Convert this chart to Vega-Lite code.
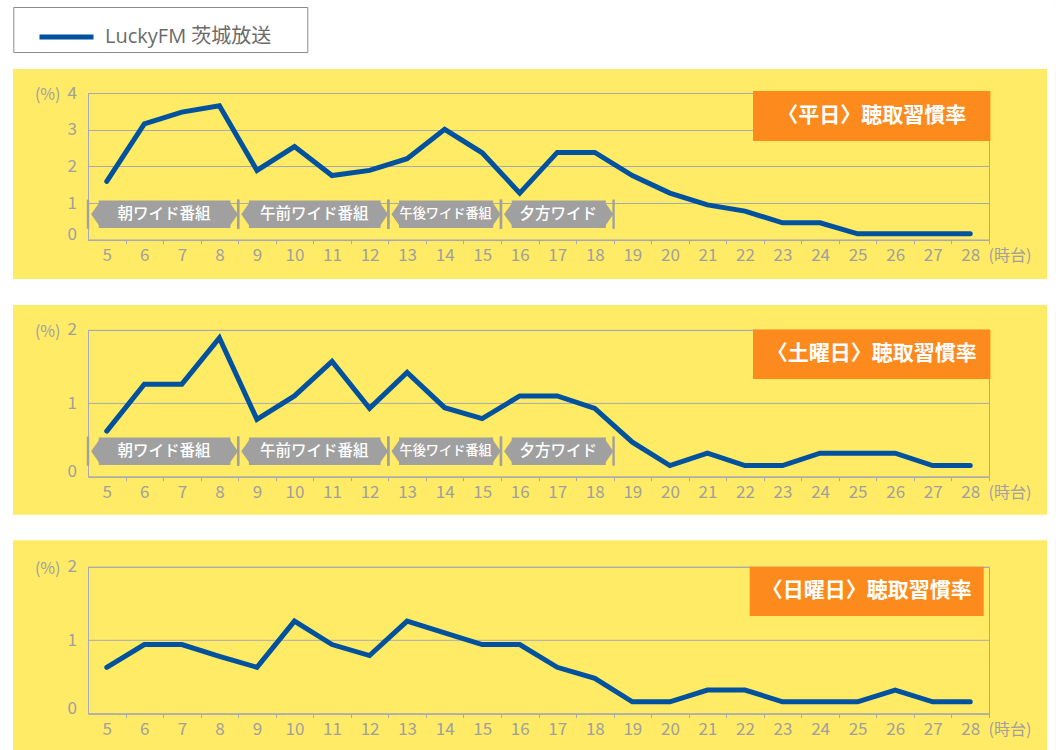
{
  "$schema": "https://vega.github.io/schema/vega-lite/v6.json",
  "background": "#FFEB65",
  "padding": {"left": -1, "top": -1, "right": 0, "bottom": 0},
  "autosize": {"type": "pad"},
  "spacing": 89.9,
  "bounds": "flush",
  "datasets": {
    "blank": [{}],
    "programs": [
      {"program": "朝ワイド番組", "start": 5, "end": 8},
      {"program": "午前ワイド番組", "start": 9, "end": 12},
      {"program": "午後ワイド番組", "start": 13, "end": 15},
      {"program": "夕方ワイド", "start": 16, "end": 18}
    ],
    "titles": [
      {"day": "平日", "title": "〈平日〉聴取習慣率"},
      {"day": "土曜日", "title": "〈土曜日〉聴取習慣率"},
      {"day": "日曜日", "title": "〈日曜日〉聴取習慣率"}
    ],
    "listen": [
      {"day": "平日", "hour": 5, "value": 1.59, "station": "LuckyFM 茨城放送"},
      {"day": "平日", "hour": 6, "value": 3.16, "station": "LuckyFM 茨城放送"},
      {"day": "平日", "hour": 7, "value": 3.48, "station": "LuckyFM 茨城放送"},
      {"day": "平日", "hour": 8, "value": 3.65, "station": "LuckyFM 茨城放送"},
      {"day": "平日", "hour": 9, "value": 1.89, "station": "LuckyFM 茨城放送"},
      {"day": "平日", "hour": 10, "value": 2.54, "station": "LuckyFM 茨城放送"},
      {"day": "平日", "hour": 11, "value": 1.75, "station": "LuckyFM 茨城放送"},
      {"day": "平日", "hour": 12, "value": 1.89, "station": "LuckyFM 茨城放送"},
      {"day": "平日", "hour": 13, "value": 2.21, "station": "LuckyFM 茨城放送"},
      {"day": "平日", "hour": 14, "value": 3.01, "station": "LuckyFM 茨城放送"},
      {"day": "平日", "hour": 15, "value": 2.37, "station": "LuckyFM 茨城放送"},
      {"day": "平日", "hour": 16, "value": 1.27, "station": "LuckyFM 茨城放送"},
      {"day": "平日", "hour": 17, "value": 2.38, "station": "LuckyFM 茨城放送"},
      {"day": "平日", "hour": 18, "value": 2.38, "station": "LuckyFM 茨城放送"},
      {"day": "平日", "hour": 19, "value": 1.75, "station": "LuckyFM 茨城放送"},
      {"day": "平日", "hour": 20, "value": 1.27, "station": "LuckyFM 茨城放送"},
      {"day": "平日", "hour": 21, "value": 0.95, "station": "LuckyFM 茨城放送"},
      {"day": "平日", "hour": 22, "value": 0.78, "station": "LuckyFM 茨城放送"},
      {"day": "平日", "hour": 23, "value": 0.46, "station": "LuckyFM 茨城放送"},
      {"day": "平日", "hour": 24, "value": 0.46, "station": "LuckyFM 茨城放送"},
      {"day": "平日", "hour": 25, "value": 0.16, "station": "LuckyFM 茨城放送"},
      {"day": "平日", "hour": 26, "value": 0.16, "station": "LuckyFM 茨城放送"},
      {"day": "平日", "hour": 27, "value": 0.16, "station": "LuckyFM 茨城放送"},
      {"day": "平日", "hour": 28, "value": 0.16, "station": "LuckyFM 茨城放送"},
      {"day": "土曜日", "hour": 5, "value": 0.62, "station": "LuckyFM 茨城放送"},
      {"day": "土曜日", "hour": 6, "value": 1.26, "station": "LuckyFM 茨城放送"},
      {"day": "土曜日", "hour": 7, "value": 1.26, "station": "LuckyFM 茨城放送"},
      {"day": "土曜日", "hour": 8, "value": 1.89, "station": "LuckyFM 茨城放送"},
      {"day": "土曜日", "hour": 9, "value": 0.78, "station": "LuckyFM 茨城放送"},
      {"day": "土曜日", "hour": 10, "value": 1.10, "station": "LuckyFM 茨城放送"},
      {"day": "土曜日", "hour": 11, "value": 1.57, "station": "LuckyFM 茨城放送"},
      {"day": "土曜日", "hour": 12, "value": 0.93, "station": "LuckyFM 茨城放送"},
      {"day": "土曜日", "hour": 13, "value": 1.42, "station": "LuckyFM 茨城放送"},
      {"day": "土曜日", "hour": 14, "value": 0.94, "station": "LuckyFM 茨城放送"},
      {"day": "土曜日", "hour": 15, "value": 0.79, "station": "LuckyFM 茨城放送"},
      {"day": "土曜日", "hour": 16, "value": 1.10, "station": "LuckyFM 茨城放送"},
      {"day": "土曜日", "hour": 17, "value": 1.10, "station": "LuckyFM 茨城放送"},
      {"day": "土曜日", "hour": 18, "value": 0.93, "station": "LuckyFM 茨城放送"},
      {"day": "土曜日", "hour": 19, "value": 0.47, "station": "LuckyFM 茨城放送"},
      {"day": "土曜日", "hour": 20, "value": 0.15, "station": "LuckyFM 茨城放送"},
      {"day": "土曜日", "hour": 21, "value": 0.32, "station": "LuckyFM 茨城放送"},
      {"day": "土曜日", "hour": 22, "value": 0.15, "station": "LuckyFM 茨城放送"},
      {"day": "土曜日", "hour": 23, "value": 0.15, "station": "LuckyFM 茨城放送"},
      {"day": "土曜日", "hour": 24, "value": 0.32, "station": "LuckyFM 茨城放送"},
      {"day": "土曜日", "hour": 25, "value": 0.32, "station": "LuckyFM 茨城放送"},
      {"day": "土曜日", "hour": 26, "value": 0.32, "station": "LuckyFM 茨城放送"},
      {"day": "土曜日", "hour": 27, "value": 0.15, "station": "LuckyFM 茨城放送"},
      {"day": "土曜日", "hour": 28, "value": 0.15, "station": "LuckyFM 茨城放送"},
      {"day": "日曜日", "hour": 5, "value": 0.63, "station": "LuckyFM 茨城放送"},
      {"day": "日曜日", "hour": 6, "value": 0.94, "station": "LuckyFM 茨城放送"},
      {"day": "日曜日", "hour": 7, "value": 0.94, "station": "LuckyFM 茨城放送"},
      {"day": "日曜日", "hour": 8, "value": 0.78, "station": "LuckyFM 茨城放送"},
      {"day": "日曜日", "hour": 9, "value": 0.63, "station": "LuckyFM 茨城放送"},
      {"day": "日曜日", "hour": 10, "value": 1.26, "station": "LuckyFM 茨城放送"},
      {"day": "日曜日", "hour": 11, "value": 0.94, "station": "LuckyFM 茨城放送"},
      {"day": "日曜日", "hour": 12, "value": 0.79, "station": "LuckyFM 茨城放送"},
      {"day": "日曜日", "hour": 13, "value": 1.26, "station": "LuckyFM 茨城放送"},
      {"day": "日曜日", "hour": 14, "value": 1.10, "station": "LuckyFM 茨城放送"},
      {"day": "日曜日", "hour": 15, "value": 0.94, "station": "LuckyFM 茨城放送"},
      {"day": "日曜日", "hour": 16, "value": 0.94, "station": "LuckyFM 茨城放送"},
      {"day": "日曜日", "hour": 17, "value": 0.63, "station": "LuckyFM 茨城放送"},
      {"day": "日曜日", "hour": 18, "value": 0.48, "station": "LuckyFM 茨城放送"},
      {"day": "日曜日", "hour": 19, "value": 0.16, "station": "LuckyFM 茨城放送"},
      {"day": "日曜日", "hour": 20, "value": 0.16, "station": "LuckyFM 茨城放送"},
      {"day": "日曜日", "hour": 21, "value": 0.32, "station": "LuckyFM 茨城放送"},
      {"day": "日曜日", "hour": 22, "value": 0.32, "station": "LuckyFM 茨城放送"},
      {"day": "日曜日", "hour": 23, "value": 0.16, "station": "LuckyFM 茨城放送"},
      {"day": "日曜日", "hour": 24, "value": 0.16, "station": "LuckyFM 茨城放送"},
      {"day": "日曜日", "hour": 25, "value": 0.16, "station": "LuckyFM 茨城放送"},
      {"day": "日曜日", "hour": 26, "value": 0.32, "station": "LuckyFM 茨城放送"},
      {"day": "日曜日", "hour": 27, "value": 0.16, "station": "LuckyFM 茨城放送"},
      {"day": "日曜日", "hour": 28, "value": 0.16, "station": "LuckyFM 茨城放送"}
    ]
  },
  "vconcat": [
    {
      "width": 901,
      "height": 146.7,
      "layer": [
        {
          "data": {"name": "blank"},
          "mark": {"type": "rect", "color": "#FFFFFF"},
          "encoding": {
            "x": {"datum": 2.1559, "type": "quantitative", "axis": {"values": [5,6,7,8,9,10,11,12,13,14,15,16,17,18,19,20,21,22,23,24,25,26,27,28], "format": "d", "title": "(時台)"}},
            "x2": {"datum": 30.28},
            "y": {"datum": 6.5357, "type": "quantitative", "axis": {"tickCount": 4, "format": "d", "title": "(%)", "labelOffset": {"condition": {"test": "datum.value === 0", "value": -5}, "value": 0}}},
            "y2": {"datum": 4.6544}
          }
        },
        {
          "data": {"name": "blank"},
          "mark": {"type": "rect", "color": "#FFFFFF"},
          "encoding": {
            "x": {"datum": 2.1559, "type": "quantitative", "axis": {"values": [5,6,7,8,9,10,11,12,13,14,15,16,17,18,19,20,21,22,23,24,25,26,27,28], "format": "d", "title": "(時台)"}},
            "x2": {"datum": 30.28},
            "y": {"datum": -1.0716, "type": "quantitative", "axis": {"tickCount": 4, "format": "d", "title": "(%)", "labelOffset": {"condition": {"test": "datum.value === 0", "value": -5}, "value": 0}}},
            "y2": {"datum": -1.7805}
          }
        },
        {
          "data": {"name": "programs"},
          "mark": {"type": "rule", "color": "#A0A0A0", "strokeWidth": 2.4, "xOffset": -18.771},
          "encoding": {
            "x": {"field": "start", "type": "quantitative", "axis": {"values": [5,6,7,8,9,10,11,12,13,14,15,16,17,18,19,20,21,22,23,24,25,26,27,28], "format": "d", "title": "(時台)"}},
            "y": {"datum": 1.093, "type": "quantitative", "axis": {"tickCount": 4, "format": "d", "title": "(%)", "labelOffset": {"condition": {"test": "datum.value === 0", "value": -5}, "value": 0}}},
            "y2": {"datum": 0.297}
          }
        },
        {
          "data": {"name": "programs"},
          "mark": {"type": "rule", "color": "#A0A0A0", "strokeWidth": 2.4, "xOffset": 18.771},
          "encoding": {
            "x": {"field": "end", "type": "quantitative", "axis": {"values": [5,6,7,8,9,10,11,12,13,14,15,16,17,18,19,20,21,22,23,24,25,26,27,28], "format": "d", "title": "(時台)"}},
            "y": {"datum": 1.093, "type": "quantitative", "axis": {"tickCount": 4, "format": "d", "title": "(%)", "labelOffset": {"condition": {"test": "datum.value === 0", "value": -5}, "value": 0}}},
            "y2": {"datum": 0.297}
          }
        },
        {
          "data": {"name": "programs"},
          "mark": {"type": "rect", "color": "#A0A0A0", "xOffset": -8, "x2Offset": 11},
          "encoding": {
            "x": {"field": "start", "type": "quantitative", "axis": {"values": [5,6,7,8,9,10,11,12,13,14,15,16,17,18,19,20,21,22,23,24,25,26,27,28], "format": "d", "title": "(時台)"}},
            "x2": {"field": "end"},
            "y": {"datum": 1.066, "type": "quantitative", "axis": {"tickCount": 4, "format": "d", "title": "(%)", "labelOffset": {"condition": {"test": "datum.value === 0", "value": -5}, "value": 0}}},
            "y2": {"datum": 0.319}
          }
        },
        {
          "data": {"name": "programs"},
          "mark": {"type": "point", "shape": "M0.15,-1L-0.56,0L0.15,1Z", "size": 751, "filled": true, "opacity": 1, "color": "#A0A0A0", "strokeWidth": 0, "xOffset": -8},
          "encoding": {
            "x": {"field": "start", "type": "quantitative", "axis": {"values": [5,6,7,8,9,10,11,12,13,14,15,16,17,18,19,20,21,22,23,24,25,26,27,28], "format": "d", "title": "(時台)"}},
            "y": {"datum": 0.6926, "type": "quantitative", "axis": {"tickCount": 4, "format": "d", "title": "(%)", "labelOffset": {"condition": {"test": "datum.value === 0", "value": -5}, "value": 0}}}
          }
        },
        {
          "data": {"name": "programs"},
          "mark": {"type": "point", "shape": "M-0.15,-1L0.55,0L-0.15,1Z", "size": 751, "filled": true, "opacity": 1, "color": "#A0A0A0", "strokeWidth": 0, "xOffset": 11},
          "encoding": {
            "x": {"field": "end", "type": "quantitative", "axis": {"values": [5,6,7,8,9,10,11,12,13,14,15,16,17,18,19,20,21,22,23,24,25,26,27,28], "format": "d", "title": "(時台)"}},
            "y": {"datum": 0.6926, "type": "quantitative", "axis": {"tickCount": 4, "format": "d", "title": "(%)", "labelOffset": {"condition": {"test": "datum.value === 0", "value": -5}, "value": 0}}}
          }
        },
        {
          "data": {"name": "programs"},
          "transform": [
            {"fold": ["start", "end"], "as": ["edge", "hourEdge"]},
            {"aggregate": [{"op": "mean", "field": "hourEdge", "as": "mid"}], "groupby": ["program"]}
          ],
          "mark": {"type": "text", "color": "#FFFFFF", "baseline": "middle", "align": "center", "fontWeight": 500, "xOffset": 1},
          "encoding": {
            "x": {"field": "mid", "type": "quantitative", "axis": {"values": [5,6,7,8,9,10,11,12,13,14,15,16,17,18,19,20,21,22,23,24,25,26,27,28], "format": "d", "title": "(時台)"}},
            "y": {"datum": 0.6926, "type": "quantitative", "axis": {"tickCount": 4, "format": "d", "title": "(%)", "labelOffset": {"condition": {"test": "datum.value === 0", "value": -5}, "value": 0}}},
            "text": {"field": "program"},
            "size": {"condition": {"test": "datum.program === '午後ワイド番組'", "value": 13.2}, "value": 15.5}
          }
        },
        {
          "data": {"name": "listen"},
          "transform": [{"filter": "datum.day === '平日'"}],
          "mark": {"type": "line", "strokeWidth": 5, "strokeCap": "round"},
          "encoding": {
            "x": {"field": "hour", "type": "quantitative", "scale": {"domain": [4.5, 28.5], "nice": false, "zero": false}, "axis": {"values": [5,6,7,8,9,10,11,12,13,14,15,16,17,18,19,20,21,22,23,24,25,26,27,28], "format": "d", "title": "(時台)"}},
            "y": {"field": "value", "type": "quantitative", "scale": {"domain": [0, 4], "nice": false}, "axis": {"tickCount": 4, "format": "d", "title": "(%)", "labelOffset": {"condition": {"test": "datum.value === 0", "value": -5}, "value": 0}}},
            "color": {"field": "station", "type": "nominal", "scale": {"range": ["#00519E"]},
              "legend": {"orient": "none", "legendX": -74.7, "legendY": -86.0, "title": null, "symbolType": "M-1.2,0H1.2", "symbolSize": 2025, "symbolStrokeWidth": 5, "symbolOffset": 23.2, "labelOffset": 13.5, "padding": 5, "labelFontSize": 20, "labelFont": "Open Sans, Noto Sans CJK JP", "labelLimit": 500, "labelColor": "#6B6B6B", "fillColor": "#FFFFFF", "strokeColor": "#8C8C8C", "labelExpr": "datum.label + '⠀⠀'", "zindex": 1}}
          }
        },
        {
          "data": {"name": "blank"},
          "mark": {"type": "rect", "color": "#FD8A1D"},
          "encoding": {
            "x": {"datum": 22.214, "type": "quantitative", "axis": {"values": [5,6,7,8,9,10,11,12,13,14,15,16,17,18,19,20,21,22,23,24,25,26,27,28], "format": "d", "title": "(時台)"}},
            "x2": {"datum": 28.537},
            "y": {"datum": 4.055, "type": "quantitative", "axis": {"tickCount": 4, "format": "d", "title": "(%)", "labelOffset": {"condition": {"test": "datum.value === 0", "value": -5}, "value": 0}}},
            "y2": {"datum": 2.691}
          }
        },
        {
          "data": {"name": "titles"},
          "transform": [{"filter": "datum.day === '平日'"}],
          "mark": {"type": "text", "color": "#FFFFFF", "fontSize": 21, "fontWeight": "bold", "align": "center", "baseline": "middle"},
          "encoding": {
            "x": {"datum": 25.375, "type": "quantitative", "axis": {"values": [5,6,7,8,9,10,11,12,13,14,15,16,17,18,19,20,21,22,23,24,25,26,27,28], "format": "d", "title": "(時台)"}},
            "y": {"datum": 3.373, "type": "quantitative", "axis": {"tickCount": 4, "format": "d", "title": "(%)", "labelOffset": {"condition": {"test": "datum.value === 0", "value": -5}, "value": 0}}},
            "text": {"field": "title"}
          }
        }
      ]
    },
    {
      "width": 901,
      "height": 146.7,
      "layer": [
        {
          "data": {"name": "blank"},
          "mark": {"type": "rect", "color": "#FFFFFF"},
          "encoding": {
            "x": {"datum": 2.1559, "type": "quantitative", "axis": {"values": [5,6,7,8,9,10,11,12,13,14,15,16,17,18,19,20,21,22,23,24,25,26,27,28], "format": "d", "title": "(時台)"}},
            "x2": {"datum": 30.28},
            "y": {"datum": -0.5208, "type": "quantitative", "axis": {"tickCount": 2, "format": "d", "title": "(%)", "labelOffset": {"condition": {"test": "datum.value === 0", "value": -5}, "value": 0}}},
            "y2": {"datum": -0.8685}
          }
        },
        {
          "data": {"name": "programs"},
          "mark": {"type": "rule", "color": "#A0A0A0", "strokeWidth": 2.4, "xOffset": -18.771},
          "encoding": {
            "x": {"field": "start", "type": "quantitative", "axis": {"values": [5,6,7,8,9,10,11,12,13,14,15,16,17,18,19,20,21,22,23,24,25,26,27,28], "format": "d", "title": "(時台)"}},
            "y": {"datum": 0.5467, "type": "quantitative", "axis": {"tickCount": 2, "format": "d", "title": "(%)", "labelOffset": {"condition": {"test": "datum.value === 0", "value": -5}, "value": 0}}},
            "y2": {"datum": 0.1486}
          }
        },
        {
          "data": {"name": "programs"},
          "mark": {"type": "rule", "color": "#A0A0A0", "strokeWidth": 2.4, "xOffset": 18.771},
          "encoding": {
            "x": {"field": "end", "type": "quantitative", "axis": {"values": [5,6,7,8,9,10,11,12,13,14,15,16,17,18,19,20,21,22,23,24,25,26,27,28], "format": "d", "title": "(時台)"}},
            "y": {"datum": 0.5467, "type": "quantitative", "axis": {"tickCount": 2, "format": "d", "title": "(%)", "labelOffset": {"condition": {"test": "datum.value === 0", "value": -5}, "value": 0}}},
            "y2": {"datum": 0.1486}
          }
        },
        {
          "data": {"name": "programs"},
          "mark": {"type": "rect", "color": "#A0A0A0", "xOffset": -8, "x2Offset": 11},
          "encoding": {
            "x": {"field": "start", "type": "quantitative", "axis": {"values": [5,6,7,8,9,10,11,12,13,14,15,16,17,18,19,20,21,22,23,24,25,26,27,28], "format": "d", "title": "(時台)"}},
            "x2": {"field": "end"},
            "y": {"datum": 0.533, "type": "quantitative", "axis": {"tickCount": 2, "format": "d", "title": "(%)", "labelOffset": {"condition": {"test": "datum.value === 0", "value": -5}, "value": 0}}},
            "y2": {"datum": 0.1595}
          }
        },
        {
          "data": {"name": "programs"},
          "mark": {"type": "point", "shape": "M0.15,-1L-0.56,0L0.15,1Z", "size": 751, "filled": true, "opacity": 1, "color": "#A0A0A0", "strokeWidth": 0, "xOffset": -8},
          "encoding": {
            "x": {"field": "start", "type": "quantitative", "axis": {"values": [5,6,7,8,9,10,11,12,13,14,15,16,17,18,19,20,21,22,23,24,25,26,27,28], "format": "d", "title": "(時台)"}},
            "y": {"datum": 0.3463, "type": "quantitative", "axis": {"tickCount": 2, "format": "d", "title": "(%)", "labelOffset": {"condition": {"test": "datum.value === 0", "value": -5}, "value": 0}}}
          }
        },
        {
          "data": {"name": "programs"},
          "mark": {"type": "point", "shape": "M-0.15,-1L0.55,0L-0.15,1Z", "size": 751, "filled": true, "opacity": 1, "color": "#A0A0A0", "strokeWidth": 0, "xOffset": 11},
          "encoding": {
            "x": {"field": "end", "type": "quantitative", "axis": {"values": [5,6,7,8,9,10,11,12,13,14,15,16,17,18,19,20,21,22,23,24,25,26,27,28], "format": "d", "title": "(時台)"}},
            "y": {"datum": 0.3463, "type": "quantitative", "axis": {"tickCount": 2, "format": "d", "title": "(%)", "labelOffset": {"condition": {"test": "datum.value === 0", "value": -5}, "value": 0}}}
          }
        },
        {
          "data": {"name": "programs"},
          "transform": [
            {"fold": ["start", "end"], "as": ["edge", "hourEdge"]},
            {"aggregate": [{"op": "mean", "field": "hourEdge", "as": "mid"}], "groupby": ["program"]}
          ],
          "mark": {"type": "text", "color": "#FFFFFF", "baseline": "middle", "align": "center", "fontWeight": 500, "xOffset": 1},
          "encoding": {
            "x": {"field": "mid", "type": "quantitative", "axis": {"values": [5,6,7,8,9,10,11,12,13,14,15,16,17,18,19,20,21,22,23,24,25,26,27,28], "format": "d", "title": "(時台)"}},
            "y": {"datum": 0.3463, "type": "quantitative", "axis": {"tickCount": 2, "format": "d", "title": "(%)", "labelOffset": {"condition": {"test": "datum.value === 0", "value": -5}, "value": 0}}},
            "text": {"field": "program"},
            "size": {"condition": {"test": "datum.program === '午後ワイド番組'", "value": 13.2}, "value": 15.5}
          }
        },
        {
          "data": {"name": "listen"},
          "transform": [{"filter": "datum.day === '土曜日'"}],
          "mark": {"type": "line", "strokeWidth": 5, "strokeCap": "round"},
          "encoding": {
            "x": {"field": "hour", "type": "quantitative", "scale": {"domain": [4.5, 28.5], "nice": false, "zero": false}, "axis": {"values": [5,6,7,8,9,10,11,12,13,14,15,16,17,18,19,20,21,22,23,24,25,26,27,28], "format": "d", "title": "(時台)"}},
            "y": {"field": "value", "type": "quantitative", "scale": {"domain": [0, 2], "nice": false}, "axis": {"tickCount": 2, "format": "d", "title": "(%)", "labelOffset": {"condition": {"test": "datum.value === 0", "value": -5}, "value": 0}}},
            "color": {"field": "station", "type": "nominal", "scale": {"range": ["#00519E"]},
              "legend": {"orient": "none", "legendX": -74.7, "legendY": -86.0, "title": null, "symbolType": "M-1.2,0H1.2", "symbolSize": 2025, "symbolStrokeWidth": 5, "symbolOffset": 23.2, "labelOffset": 13.5, "padding": 5, "labelFontSize": 20, "labelFont": "Open Sans, Noto Sans CJK JP", "labelLimit": 500, "labelColor": "#6B6B6B", "fillColor": "#FFFFFF", "strokeColor": "#8C8C8C", "labelExpr": "datum.label + '⠀⠀'", "zindex": 1}}
          }
        },
        {
          "data": {"name": "blank"},
          "mark": {"type": "rect", "color": "#FD8A1D"},
          "encoding": {
            "x": {"datum": 22.214, "type": "quantitative", "axis": {"values": [5,6,7,8,9,10,11,12,13,14,15,16,17,18,19,20,21,22,23,24,25,26,27,28], "format": "d", "title": "(時台)"}},
            "x2": {"datum": 28.537},
            "y": {"datum": 2.004, "type": "quantitative", "axis": {"tickCount": 2, "format": "d", "title": "(%)", "labelOffset": {"condition": {"test": "datum.value === 0", "value": -5}, "value": 0}}},
            "y2": {"datum": 1.332}
          }
        },
        {
          "data": {"name": "titles"},
          "transform": [{"filter": "datum.day === '土曜日'"}],
          "mark": {"type": "text", "color": "#FFFFFF", "fontSize": 21, "fontWeight": "bold", "align": "center", "baseline": "middle"},
          "encoding": {
            "x": {"datum": 25.375, "type": "quantitative", "axis": {"values": [5,6,7,8,9,10,11,12,13,14,15,16,17,18,19,20,21,22,23,24,25,26,27,28], "format": "d", "title": "(時台)"}},
            "y": {"datum": 1.667, "type": "quantitative", "axis": {"tickCount": 2, "format": "d", "title": "(%)", "labelOffset": {"condition": {"test": "datum.value === 0", "value": -5}, "value": 0}}},
            "text": {"field": "title"}
          }
        }
      ]
    },
    {
      "width": 901,
      "height": 146.7,
      "layer": [
        {
          "data": {"name": "blank"},
          "mark": {"type": "rect", "color": "#FFFFFF"},
          "encoding": {
            "x": {"datum": 2.1559, "type": "quantitative", "axis": {"values": [5,6,7,8,9,10,11,12,13,14,15,16,17,18,19,20,21,22,23,24,25,26,27,28], "format": "d", "title": "(時台)"}},
            "x2": {"datum": 2.5022},
            "y": {"datum": 9.715, "type": "quantitative", "axis": {"tickCount": 2, "format": "d", "title": "(%)", "labelOffset": {"condition": {"test": "datum.value === 0", "value": -5}, "value": 0}}},
            "y2": {"datum": -0.503}
          }
        },
        {
          "data": {"name": "blank"},
          "mark": {"type": "rect", "color": "#FFFFFF"},
          "encoding": {
            "x": {"datum": 30.045, "type": "quantitative", "axis": {"values": [5,6,7,8,9,10,11,12,13,14,15,16,17,18,19,20,21,22,23,24,25,26,27,28], "format": "d", "title": "(時台)"}},
            "x2": {"datum": 30.28},
            "y": {"datum": 9.715, "type": "quantitative", "axis": {"tickCount": 2, "format": "d", "title": "(%)", "labelOffset": {"condition": {"test": "datum.value === 0", "value": -5}, "value": 0}}},
            "y2": {"datum": -0.503}
          }
        },
        {
          "data": {"name": "listen"},
          "transform": [{"filter": "datum.day === '日曜日'"}],
          "mark": {"type": "line", "strokeWidth": 5, "strokeCap": "round"},
          "encoding": {
            "x": {"field": "hour", "type": "quantitative", "scale": {"domain": [4.5, 28.5], "nice": false, "zero": false}, "axis": {"values": [5,6,7,8,9,10,11,12,13,14,15,16,17,18,19,20,21,22,23,24,25,26,27,28], "format": "d", "title": "(時台)"}},
            "y": {"field": "value", "type": "quantitative", "scale": {"domain": [0, 2], "nice": false}, "axis": {"tickCount": 2, "format": "d", "title": "(%)", "labelOffset": {"condition": {"test": "datum.value === 0", "value": -5}, "value": 0}}},
            "color": {"field": "station", "type": "nominal", "scale": {"range": ["#00519E"]},
              "legend": {"orient": "none", "legendX": -74.7, "legendY": -86.0, "title": null, "symbolType": "M-1.2,0H1.2", "symbolSize": 2025, "symbolStrokeWidth": 5, "symbolOffset": 23.2, "labelOffset": 13.5, "padding": 5, "labelFontSize": 20, "labelFont": "Open Sans, Noto Sans CJK JP", "labelLimit": 500, "labelColor": "#6B6B6B", "fillColor": "#FFFFFF", "strokeColor": "#8C8C8C", "labelExpr": "datum.label + '⠀⠀'", "zindex": 1}}
          }
        },
        {
          "data": {"name": "blank"},
          "mark": {"type": "rect", "color": "#FD8A1D"},
          "encoding": {
            "x": {"datum": 22.126, "type": "quantitative", "axis": {"values": [5,6,7,8,9,10,11,12,13,14,15,16,17,18,19,20,21,22,23,24,25,26,27,28], "format": "d", "title": "(時台)"}},
            "x2": {"datum": 28.359},
            "y": {"datum": 2.0, "type": "quantitative", "axis": {"tickCount": 2, "format": "d", "title": "(%)", "labelOffset": {"condition": {"test": "datum.value === 0", "value": -5}, "value": 0}}},
            "y2": {"datum": 1.328}
          }
        },
        {
          "data": {"name": "titles"},
          "transform": [{"filter": "datum.day === '日曜日'"}],
          "mark": {"type": "text", "color": "#FFFFFF", "fontSize": 21, "fontWeight": "bold", "align": "center", "baseline": "middle"},
          "encoding": {
            "x": {"datum": 25.243, "type": "quantitative", "axis": {"values": [5,6,7,8,9,10,11,12,13,14,15,16,17,18,19,20,21,22,23,24,25,26,27,28], "format": "d", "title": "(時台)"}},
            "y": {"datum": 1.664, "type": "quantitative", "axis": {"tickCount": 2, "format": "d", "title": "(%)", "labelOffset": {"condition": {"test": "datum.value === 0", "value": -5}, "value": 0}}},
            "text": {"field": "title"}
          }
        }
      ]
    }
  ],
  "config": {
    "font": "Noto Sans CJK JP",
    "view": {"stroke": "#A9A9B1", "strokeWidth": 1},
    "axis": {"labelFont": "Noto Sans CJK JP", "labelFontSize": 17, "labelColor": "#A0A0A0", "domainColor": "#A9A9B1", "gridColor": "#A9A9B1", "tickColor": "#A9A9B1", "titleFont": "Noto Sans CJK JP", "titleFontSize": 16, "titleColor": "#A0A0A0", "titleFontWeight": "normal"},
    "axisX": {"grid": false, "tickSize": 4, "tickOffset": 18.771, "labelOffset": -18.771, "labelPadding": 4, "labelFlush": false, "labelOverlap": false, "titleX": 900, "titleY": 16, "titleAlign": "left", "titleBaseline": "middle"},
    "axisY": {"grid": true, "ticks": false, "tickSize": 0, "labelPadding": 11.5, "labelOverlap": false, "titleAngle": 0, "titleX": -28, "titleY": 1.3, "titleAlign": "right", "titleBaseline": "middle"},
    "legend": {"labelFont": "Noto Sans CJK JP"}
  }
}
